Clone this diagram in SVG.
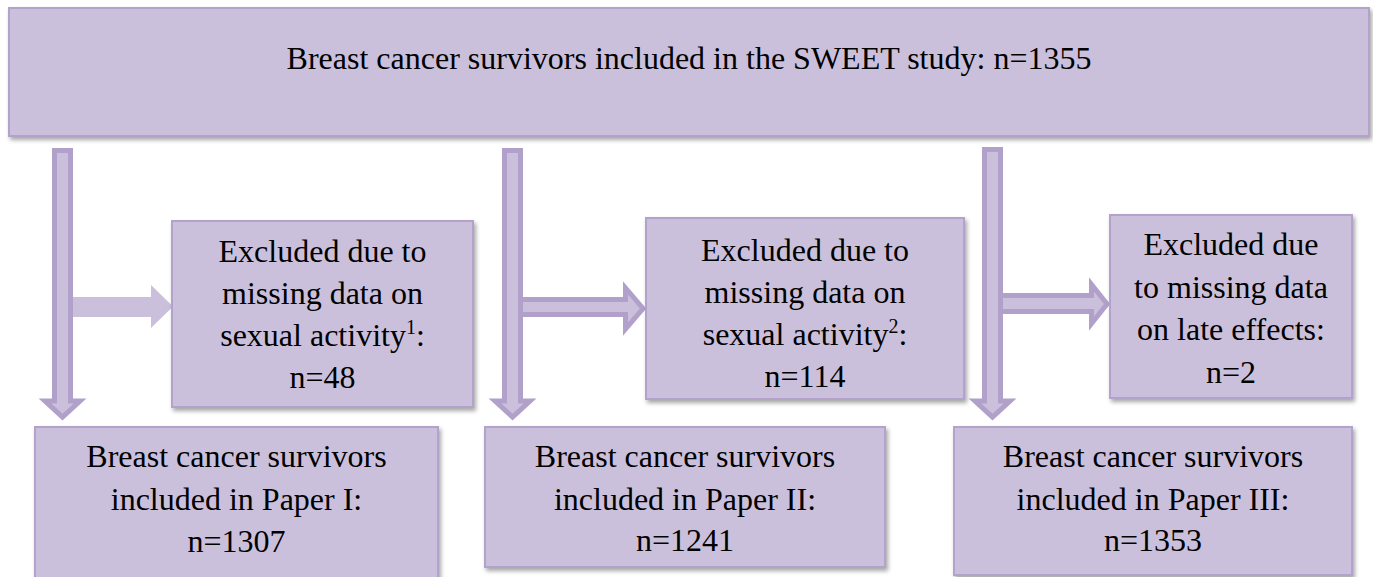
<svg xmlns="http://www.w3.org/2000/svg" width="1373" height="577" viewBox="0 0 1373 577">
<style>
  .box { fill: #CBC0DC; stroke: #B3A3CC; stroke-width: 2; filter: url(#sh); }
  .arr { fill: #CBC0DC; stroke: #B1A0CA; stroke-width: 5; stroke-linejoin: miter; }
  .arr0 { fill: #CBC0DC; stroke: none; }
  text { font-family: "Liberation Serif", "Times New Roman", serif; font-size: 32px; fill: #000; text-anchor: middle; }
  .sup { font-size: 20px; }
</style>
<defs>
  <filter id="sh" x="-5%" y="-5%" width="110%" height="120%">
    <feDropShadow dx="2" dy="3" stdDeviation="2" flood-color="#000" flood-opacity="0.35"/>
  </filter>
</defs>
<rect width="1373" height="577" fill="#fff"/>

<g id="connectors">
  <path class="arr0" d="M70,297 L151,297 L151,285 L173,306.5 L151,328 L151,317 L70,317 Z"/>
  <path class="arr" d="M520,299.5 L625.5,299.5 L625.5,288 L643,308.5 L625.5,329 L625.5,314.5 L520,314.5 Z"/>
  <path class="arr" d="M1000,295.5 L1091.5,295.5 L1091.5,284.5 L1107,304 L1091.5,323.5 L1091.5,311.5 L1000,311.5 Z"/>
  <path class="arr" d="M54.5,150.5 L70.5,150.5 L70.5,401 L80,401 L62.5,417 L45,401 L54.5,401 Z"/>
  <path class="arr" d="M504.5,150.5 L520.5,150.5 L520.5,401 L530,401 L512.5,417 L495,401 L504.5,401 Z"/>
  <path class="arr" d="M984.5,149.5 L1000.5,149.5 L1000.5,401 L1010,401 L992.5,417 L975,401 L984.5,401 Z"/>
</g>

<g id="top">
  <rect class="box" x="9" y="8" width="1360" height="128"/>
  <text x="689" y="69">Breast cancer survivors included in the SWEET study: n=1355</text>
</g>

<g id="excl1">
  <rect class="box" x="172" y="221" width="301" height="186"/>
  <text x="322.5" y="262">Excluded due to</text>
  <text x="322.5" y="304">missing data on</text>
  <text x="322.5" y="346">sexual activity<tspan class="sup" dy="-12">1</tspan><tspan dy="12">:</tspan></text>
  <text x="322.5" y="388">n=48</text>
</g>

<g id="excl2">
  <rect class="box" x="646" y="218" width="318" height="181"/>
  <text x="805" y="261">Excluded due to</text>
  <text x="805" y="303">missing data on</text>
  <text x="805" y="345">sexual activity<tspan class="sup" dy="-12">2</tspan><tspan dy="12">:</tspan></text>
  <text x="805" y="387">n=114</text>
</g>

<g id="excl3">
  <rect class="box" x="1110" y="215" width="242" height="183"/>
  <text x="1231" y="255">Excluded due</text>
  <text x="1231" y="297.5">to missing data</text>
  <text x="1231" y="340">on late effects:</text>
  <text x="1231" y="382.5">n=2</text>
</g>

<g id="paper1">
  <rect class="box" x="35" y="427" width="403" height="160"/>
  <text x="236.5" y="467">Breast cancer survivors</text>
  <text x="236.5" y="509.5">included in Paper I:</text>
  <text x="236.5" y="552">n=1307</text>
</g>

<g id="paper2">
  <rect class="box" x="485" y="427" width="400" height="140"/>
  <text x="685" y="467">Breast cancer survivors</text>
  <text x="685" y="509.5">included in Paper II:</text>
  <text x="685" y="551">n=1241</text>
</g>

<g id="paper3">
  <rect class="box" x="954" y="427" width="398" height="148"/>
  <text x="1153" y="467">Breast cancer survivors</text>
  <text x="1153" y="509.5">included in Paper III:</text>
  <text x="1153" y="551">n=1353</text>
</g>
</svg>
